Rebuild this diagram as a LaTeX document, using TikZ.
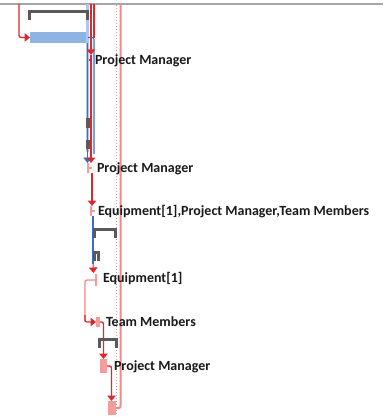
\documentclass[tikz,border=0pt]{standalone}
\usepackage{fontspec}
\setmainfont{Carlito}
\usetikzlibrary{arrows.meta}

\definecolor{barblue}{HTML}{8DB4E2}
\definecolor{linkred}{HTML}{E3262D}
\definecolor{linkpink}{HTML}{F08A8A}
\definecolor{critpink}{HTML}{F79C9C}
\definecolor{linkblue}{HTML}{3D6BC6}
\definecolor{paleblue}{HTML}{A9C8EA}
\definecolor{summarygray}{HTML}{5A5A5A}
\definecolor{gridgray}{HTML}{A6A6A6}
\definecolor{labeltext}{HTML}{1A1A1A}

\tikzset{
  every node/.style={inner sep=0pt, outer sep=0pt},
  lbl/.style={anchor=base west, font=\bfseries\fontsize{14}{16}\selectfont, text=labeltext},
  bluebar/.style={fill=barblue, draw=none, anchor=north west},
  critbar/.style={fill=critpink, draw=none, anchor=north west},
  tip/.style={-{Triangle[length=5.5pt,width=8.5pt]}},
  redlink/.style={draw=linkred, line width=1.3pt, rounded corners=2pt},
  pinklink/.style={draw=linkpink, line width=1.4pt, rounded corners=2pt},
  bluelink/.style={draw=linkblue, line width=1.1pt, rounded corners=2pt},
  tickmark/.style={line width=1.3pt},
}

% summary bracket: left x, right x, top y
\newcommand\ganttsummary[3]{%
  \fill[summarygray] (#1,#3) rectangle (#2,#3+3);
  \fill[summarygray] (#1,#3) rectangle (#1+3,#3+10);
  \fill[summarygray] (#2-3,#3) rectangle (#2,#3+10);
}

\begin{document}
\begin{tikzpicture}[x=1pt,y=-1pt]
\useasboundingbox (0,0) rectangle (383,417);
\fill[white] (0,0) rectangle (383,417);

% timescale border
\draw[gridgray, line width=1.5pt] (0,4) -- (383,4);

% status date line
\draw[gridgray, line width=1pt, dash pattern=on 1pt off 2pt] (116,5) -- (116,416);

% task bars
\node[bluebar, minimum width=58pt, minimum height=11pt] (t1) at (30,32) {};
\node[critbar, minimum width=4pt, minimum height=10pt] (tm) at (96,317) {};
\node[critbar, minimum width=7pt, minimum height=14pt] (pm3) at (100,359) {};
\node[critbar, minimum width=8pt, minimum height=14pt] (fin) at (108,401) {};

% milestone ticks
\coordinate (pm1) at (91,60);
\coordinate (pm2) at (88,168);
\coordinate (eq) at (91,211);
\coordinate (eqone) at (96,280);
\draw[linkred, tickmark] (87,60) -- (pm1) (91,55) -- (91,65);
\draw[critpink, tickmark] (pm2) -- (92,168) (88,163) -- (88,173);
\draw[critpink, tickmark] (eq) -- (95,211) (91,206) -- (91,216);
\draw[critpink, tickmark] (96,274) -- (96,286);

% free ends of links entering from above
\coordinate (in0) at (19,4);
\coordinate (in1) at (91,4);
\coordinate (in2) at (94,4);
\coordinate (in3) at (87.5,4);
\coordinate (in4) at (120.5,4);

% links in the upper column
\draw[paleblue, line width=3.5pt] (in3) -- (87.5,152);
\draw[redlink, tip, color=linkred] (in0) |- (t1.west);
\draw[redlink] (in2) -- (94,38);
\draw[redlink, tip, color=linkred] (in1) -- (91,55);
\draw[bluelink] (t1.east) -| (94,154);
\draw[linkblue, line width=0.8pt, tip] (87.5,43) -- (87.5,163);
\draw[redlink, tip, color=linkred] (91,65) -- (91,163);
\draw[redlink, tip, color=linkred] (92,173) -- (92,206);
\draw[bluelink] (93,216) -- (93,264);
\draw[linkred, -{Triangle[length=5.5pt,width=8.5pt]}, line width=1pt] (93,264) -- (93.5,273);

% links in the lower column
\draw[pinklink] (eqone) -- (85,280) -- (85,322);
\draw[linkred, line width=1.2pt, rounded corners=2pt, tip] (85,315) |- (tm.west);
\draw[redlink, tip, color=linkred] (tm.east) -| (103.5,359);
\draw[redlink, tip, color=linkred] (pm3.east) -| (111.5,401);
\draw[pinklink, line width=2pt] (in4) |- (fin.east);

% summary rows
\ganttsummary{28}{89}{10}
\fill[summarygray] (85.5,118) rectangle (90,128);
\fill[summarygray] (85.5,140) rectangle (90,149);
\ganttsummary{93}{117}{228}
\ganttsummary{93}{100}{251}
\ganttsummary{98}{118}{338}

% resource labels
\node[lbl] (l1) at (95,64.5) {Project Manager};
\node[lbl] (l2) at (97,172.5) {Project Manager};
\node[lbl] (l3) at (98,215.5) {Equipment[1],Project Manager,Team Members};
\node[lbl] (l4) at (103,282.5) {Equipment[1]};
\node[lbl] (l5) at (106,326.5) {Team Members};
\node[lbl] (l6) at (114,370.5) {Project Manager};
\end{tikzpicture}
\end{document}
